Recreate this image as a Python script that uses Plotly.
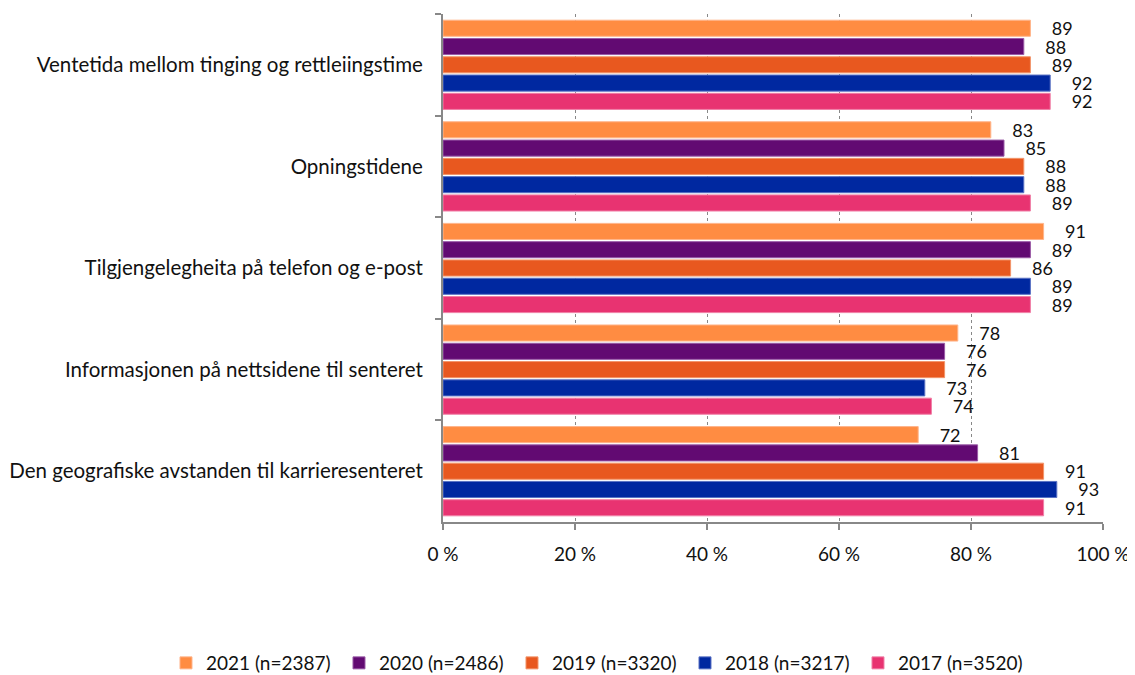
import plotly.graph_objects as go

categories = [
    "Ventetida mellom tinging og rettleiingstime",
    "Opningstidene",
    "Tilgjengelegheita på telefon og e-post",
    "Informasjonen på nettsidene til senteret",
    "Den geografiske avstanden til karrieresenteret",
]
series_names = ["2021 (n=2387)", "2020 (n=2486)", "2019 (n=3320)", "2018 (n=3217)", "2017 (n=3520)"]
values_2021 = [89, 83, 91, 78, 72]
values_2020 = [88, 85, 89, 76, 81]
values_2019 = [89, 88, 86, 76, 91]
values_2018 = [92, 88, 89, 73, 93]
values_2017 = [92, 89, 89, 74, 91]
x_ticks = [0, 20, 40, 60, 80, 100]
x_tick_labels = ["0 %", "20 %", "40 %", "60 %", "80 %", "100 %"]

series_values = [values_2021, values_2020, values_2019, values_2018, values_2017]
colors = ["#FF8C42", "#620A72", "#E8581F", "#0028A0", "#E83371"]
border = ["#FFB48A", "#9A5AA6", "#F2946A", "#5A72C4", "#F07FA6"]

FONT = "Lato"
PAD = "\u00a0" * 4

fig = go.Figure()
for name, vals, c, b in zip(series_names, series_values, colors, border):
    fig.add_trace(go.Bar(
        y=categories, x=vals, name=name, orientation="h",
        marker=dict(color=c, line=dict(color=b, width=1)),
        text=[PAD + str(v) for v in vals], texttemplate="%{text}", textposition="outside",
        textfont=dict(size=18, color="#111111", family=FONT),
        cliponaxis=False, constraintext="none",
    ))

# page body has an 8px margin: figure is drawn from (8, 8)
fig.update_layout(
    width=1127, height=667,
    barmode="group", bargap=0.1, bargroupgap=0.12,
    paper_bgcolor="white", plot_bgcolor="white",
    margin=dict(l=435, r=32, t=6, b=153, autoexpand=False),
    font=dict(family=FONT, size=18, color="#111111"),
    showlegend=True,
    legend=dict(orientation="h", x=-0.4197, xanchor="left",
                y=-0.2776, yanchor="middle", itemwidth=30,
                entrywidth=128, entrywidthmode="pixels",
                font=dict(size=19, family=FONT), traceorder="normal"),
)
fig.update_xaxes(
    range=[0, 100], tickvals=x_ticks, ticktext=x_tick_labels,
    showgrid=True, gridcolor="#888888", griddash="dot", gridwidth=1,
    showline=True, linecolor="#888888", linewidth=2,
    ticks="outside", ticklen=6, tickcolor="#888888", tickwidth=2,
    tickfont=dict(size=19), zeroline=False, ticklabelstandoff=8, automargin=False,
)
fig.update_yaxes(
    autorange="reversed", showline=True, linecolor="#888888", linewidth=2,
    ticks="outside", tickson="boundaries", ticklen=6, tickcolor="#888888", tickwidth=2,
    tickfont=dict(size=20.5), showgrid=False, ticklabelstandoff=14, automargin=False,
)
fig.write_html("out.html")
